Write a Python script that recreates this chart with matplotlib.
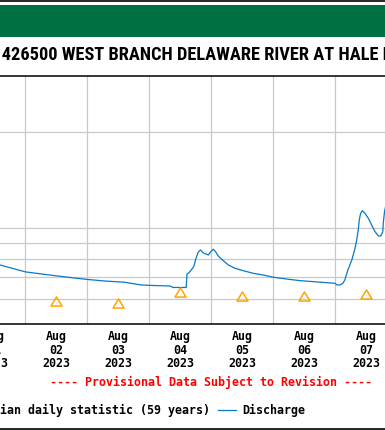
import matplotlib
matplotlib.use("Agg")
import matplotlib.pyplot as plt
import matplotlib.dates as mdates
from matplotlib import font_manager
from matplotlib.lines import Line2D
from matplotlib.patches import Rectangle
from matplotlib.path import Path
from matplotlib.ticker import NullFormatter, NullLocator
import pandas as pd

W, H, DPI = 385, 430, 100

# discharge (ft3/s), hours after 2023-08-02 00:00
hours = [-12, -9.7, 0, 9.7, 18.6, 24, 31, 38.6, 44.9, 50.4, 56.2, 57.3, 62.4,
         62.7, 63.8, 65.3, 66.2, 67.0, 67.9, 68.9, 71.0, 71.9, 72.9, 73.8,
         74.8, 76.8, 78.7, 81.3, 84.5, 88.4, 92.3, 96.1, 101.3, 106.4, 111.6,
         116.8, 120, 120.7, 121.9, 123, 123.8, 125, 126.5, 127.7, 128.4, 129,
         129.4, 129.9, 130.6, 131.6, 132.9, 134.2, 135.5, 136.8, 137.7, 138.5,
         138.7, 139.2, 139.7]
discharge = [77.2, 76.6, 72.9, 71.2, 69.8, 69.0, 68.2, 67.6, 66.3, 66.0, 65.8,
             65.1, 65.1, 71.6, 72.9, 75.6, 80.4, 83.9, 85.4, 83.7, 82.3, 84.3,
             85.8, 84.3, 81.7, 79.0, 76.6, 74.8, 73.5, 72.1, 71.2, 70.1, 69.2,
             68.4, 67.9, 67.4, 67.1, 66.3, 66.3, 67.0, 68.7, 73.9, 79.4, 86.0,
             91.8, 98.6, 106.0, 111.2, 113.4, 111.2, 107.3, 102.2, 97.4, 94.4,
             94.4, 97.4, 104.0, 113.0, 118.0]

# median daily statistic (59 years), drawn at noon
median_days = ["2023-08-02", "2023-08-03", "2023-08-04",
               "2023-08-05", "2023-08-06", "2023-08-07"]
median_cfs = [59, 58, 63, 61, 61, 62]

label_days = ["2023-08-01", "2023-08-02", "2023-08-03", "2023-08-04",
              "2023-08-05", "2023-08-06", "2023-08-07"]
grid_cfs = [60, 70, 80, 90, 100, 200]

title = "USGS 01426500 WEST BRANCH DELAWARE RIVER AT HALE EDDY NY"
MONO = "DejaVu Sans Mono"
BLUE = "#0a78c8"
ORANGE = "#ffa500"


def fx(px):
    return px / W


def fy(py):
    return (H - py) / H


fig = plt.figure(figsize=(W / DPI, H / DPI), dpi=DPI)
rend = fig.canvas.get_renderer()

# header bar + frame lines
fig.add_artist(Rectangle((0, fy(36.7)), 1, 31.7 / H, transform=fig.transFigure,
                         color="#006f41", lw=0))
fig.add_artist(Line2D([0, 1], [fy(0.7)] * 2, transform=fig.transFigure, color="black", lw=1.2))
fig.add_artist(Line2D([0, 1], [fy(429.2)] * 2, transform=fig.transFigure, color="black", lw=1.2))

# title in a narrow bold face if one is installed; sized so the visible part
# spans the picture like in the reference ("USGS 01" is off the left edge)
have = {f.name for f in font_manager.fontManager.ttflist}
narrow = [n for n in ("Liberation Sans Narrow", "DejaVu Sans Condensed",
                      "Roboto Condensed", "Open Sans Condensed") if n in have]
tfam = narrow[0] if narrow else "Liberation Sans"


def text_w(s, size):
    t = fig.text(0, 0, s, family=tfam, weight="bold", size=size)
    w = t.get_window_extent(rend).width
    t.remove()
    return w


tsize = 13 * 380 / text_w("426500 WEST BRANCH DELAWARE RIVER AT HALE ", 13)
pre_w = text_w("USGS 01", tsize)
fig.text(fx(1.7 - pre_w), fy(60), title, ha="left", va="baseline",
         family=tfam, weight="bold", size=tsize)

# plot area: Aug 1 00:00 .. Aug 8 00:00, partly outside the picture
ax = fig.add_axes([fx(-37), fy(324), 434 / W, 248 / H])
t0 = pd.Timestamp("2023-08-02")
times = [t0 + pd.Timedelta(hours=h) for h in hours]
ax.plot(times, discharge, color=BLUE, lw=0.9)

tri = Path([(-1.2, -1), (1.2, -1), (0, 1), (-1.2, -1)],
           [Path.MOVETO, Path.LINETO, Path.LINETO, Path.CLOSEPOLY])
noons = [pd.Timestamp(d) + pd.Timedelta(hours=12) for d in median_days]
ax.plot(noons, median_cfs, ls="none", marker=tri, ms=7.9, mfc="none",
        mec=ORANGE, mew=1.1)

ax.set_yscale("log")
ax.set_ylim(50, 300)
ax.set_yticks(grid_cfs)
ax.yaxis.set_minor_locator(NullLocator())
ax.tick_params(axis="y", which="both", left=False, labelleft=False)

ax.set_xlim(pd.Timestamp("2023-08-01"), pd.Timestamp("2023-08-08"))
ax.xaxis.set_major_locator(mdates.DayLocator())
ax.xaxis.set_major_formatter(NullFormatter())
lab_pos = [pd.Timestamp(d) + pd.Timedelta(hours=12) for d in label_days]
ax.set_xticks(lab_pos, [pd.Timestamp(d).strftime("%b\n%d\n%Y") for d in label_days],
              minor=True)
ax.tick_params(axis="x", which="both", length=0)
ax.tick_params(axis="x", which="minor", pad=4.5)
for lab in ax.get_xticklabels(minor=True):
    lab.set_fontfamily(MONO)
    lab.set_fontweight("bold")
    lab.set_fontsize(8.37)
    lab.set_linespacing(1.04)

ax.grid(True, which="major", color="#c8c8c8", lw=0.9)
ax.set_axisbelow(True)
for side in ("left", "right"):
    ax.spines[side].set_visible(False)
for side in ("top", "bottom"):
    ax.spines[side].set_linewidth(1.1)
    ax.spines[side].set_color("black")

mono = dict(family=MONO, weight="bold", size=8.37)
fig.text(fx(210.5), fy(382.7), "---- Provisional Data Subject to Revision ----",
         ha="center", va="center", color="red", **mono)

# legend row
fig.text(fx(-35), fy(410), "\u25b3", ha="left", va="center", color=ORANGE, **mono)
fig.text(fx(-21), fy(410), "Median daily statistic (59 years)", ha="left",
         va="center", color="black", **mono)
fig.add_artist(Line2D([fx(218), fx(236)], [fy(410)] * 2, transform=fig.transFigure,
                      color=BLUE, lw=0.9))
fig.text(fx(242), fy(410), "Discharge", ha="left", va="center", color="black", **mono)

fig.savefig("out.png", dpi=DPI)
